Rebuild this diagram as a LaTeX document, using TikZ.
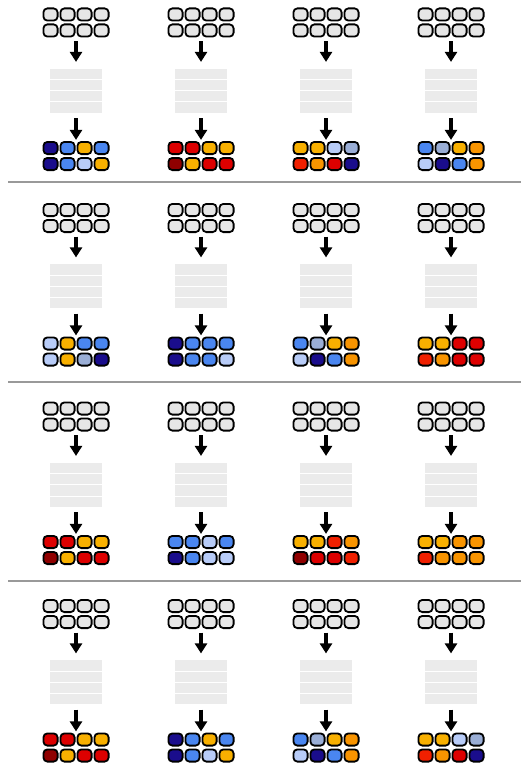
\documentclass[tikz,border=0pt]{standalone}
\usetikzlibrary{arrows.meta,fit}
\definecolor{cnavy}{HTML}{1A0D8C}
\definecolor{cblue}{HTML}{4A86F0}
\definecolor{cltblue}{HTML}{B8CCF8}
\definecolor{cgrayblue}{HTML}{9AAED6}
\definecolor{cgold}{HTML}{F8B000}
\definecolor{corange}{HTML}{F89400}
\definecolor{cred}{HTML}{DD0000}
\definecolor{cbred}{HTML}{F02000}
\definecolor{cdkred}{HTML}{900000}
\definecolor{cellgray}{HTML}{E6E6E6}
\definecolor{stripegray}{HTML}{EBEBEB}
\definecolor{sepgray}{HTML}{999999}
\tikzset{
  cell/.style={draw=black, line width=1.8pt, rounded corners=4pt,
    minimum width=14.2pt, minimum height=12.2pt, inner sep=0pt, outer sep=0pt},
  topcell/.style={cell, fill=cellgray},
  flow/.style={line width=3.8pt, -{Triangle[width=12pt,length=10pt]}},
  stripe/.style={fill=stripegray, draw=none, minimum width=52pt,
    minimum height=10.2pt, inner sep=0pt, outer sep=0pt},
  sepline/.style={draw=sepgray, line width=2pt},
  grp/.style={inner sep=0pt, outer sep=0pt, draw=none}
}
\newcommand\drawpanel[4]{%
  \foreach \k in {0,...,7}{%
    \pgfmathtruncatemacro\col{mod(\k,4)}%
    \pgfmathtruncatemacro\row{\k/4}%
    \node[topcell] (#3-t\k) at ({#1+(\col-1.5)*17},{#2+14.5+\row*16}) {};
  }
  \foreach \s [count=\j from 0] in {74,85.2,96.4,107.6}{%
    \node[stripe] (#3-s\j) at (#1,{#2+\s}) {};
  }
  \foreach \c [count=\k from 0] in {#4}{%
    \pgfmathtruncatemacro\col{mod(\k,4)}%
    \pgfmathtruncatemacro\row{\k/4}%
    \node[cell, fill=\c] (#3-b\k) at ({#1+(\col-1.5)*17},{#2+148+\row*16}) {};
  }
  \node[grp, fit=(#3-t0)(#3-t7)] (#3-top) {};
  \node[grp, fit=(#3-s0)(#3-s3)] (#3-blk) {};
  \node[grp, fit=(#3-b0)(#3-b7)] (#3-bot) {};
  \draw[flow, shorten <=4.5pt, shorten >=7pt] (#3-top.south) -- (#3-blk.north);
  \draw[flow, shorten <=5.4pt, shorten >=2pt] (#3-blk.south) -- (#3-bot.north);
}
\begin{document}
\begin{tikzpicture}[x=1pt,y=-1pt]
\useasboundingbox (0,0) rectangle (522,765);
% row 1
\drawpanel{76}{0}{p11}{cnavy,cblue,cgold,cblue,cnavy,cblue,cltblue,cgold}
\drawpanel{201}{0}{p12}{cred,cred,cgold,cgold,cdkred,cgold,cred,cred}
\drawpanel{326}{0}{p13}{cgold,cgold,cltblue,cgrayblue,cbred,corange,cred,cnavy}
\drawpanel{451}{0}{p14}{cblue,cgrayblue,cgold,corange,cltblue,cnavy,cblue,corange}
% row 2
\drawpanel{76}{195.5}{p21}{cltblue,cgold,cblue,cblue,cltblue,cgold,cgrayblue,cnavy}
\drawpanel{201}{195.5}{p22}{cnavy,cblue,cblue,cblue,cnavy,cblue,cblue,cltblue}
\drawpanel{326}{195.5}{p23}{cblue,cgrayblue,cgold,corange,cltblue,cnavy,cblue,corange}
\drawpanel{451}{195.5}{p24}{cgold,cgold,cred,cred,cbred,corange,cred,cred}
% row 3
\drawpanel{76}{394}{p31}{cred,cred,cgold,cgold,cdkred,cgold,cred,cred}
\drawpanel{201}{394}{p32}{cblue,cblue,cltblue,cblue,cnavy,cblue,cltblue,cltblue}
\drawpanel{326}{394}{p33}{cgold,cgold,cbred,corange,cdkred,cred,cred,cbred}
\drawpanel{451}{394}{p34}{cgold,cgold,corange,corange,cbred,corange,corange,corange}
% row 4
\drawpanel{76}{591.5}{p41}{cred,cred,cgold,cgold,cdkred,cgold,cred,cred}
\drawpanel{201}{591.5}{p42}{cnavy,cblue,cgold,cblue,cnavy,cblue,cltblue,cgold}
\drawpanel{326}{591.5}{p43}{cblue,cgrayblue,cgold,corange,cltblue,cnavy,cblue,corange}
\drawpanel{451}{591.5}{p44}{cgold,cgold,cltblue,cgrayblue,cbred,corange,cred,cnavy}
% separators
\coordinate (s1l) at (8,182);   \coordinate (s1r) at (521,182);
\coordinate (s2l) at (8,381.5); \coordinate (s2r) at (521,381.5);
\coordinate (s3l) at (8,580.5); \coordinate (s3r) at (521,580.5);
\draw[sepline] (s1l) -- (s1r);
\draw[sepline] (s2l) -- (s2r);
\draw[sepline] (s3l) -- (s3r);
\end{tikzpicture}
\end{document}
